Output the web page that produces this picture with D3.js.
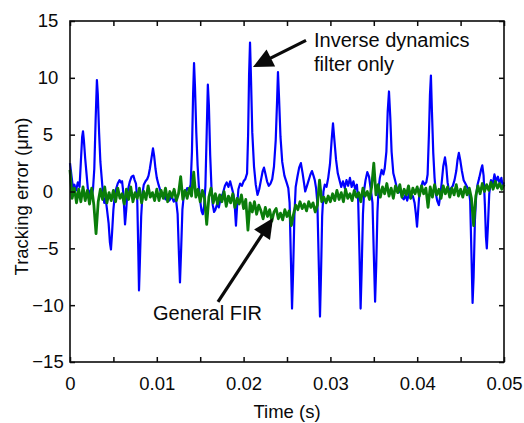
<!DOCTYPE html>
<html>
<head>
<meta charset="utf-8">
<script src="https://cdn.jsdelivr.net/npm/d3@7"></script>
<style>
  body { margin: 0; background: #fff; }
  text { font-family: "Liberation Sans", Arial, sans-serif; fill: #0a0a0a; }
</style>
</head>
<body>
<svg id="chart"></svg>
<script>
// Tracking error: inverse dynamics filter only vs general FIR

const width = 524;
const height = 423;
const margin = { top: 21, right: 20, bottom: 61, left: 70 };

// axis ticks
const xTicks = [0, 0.005, 0.01, 0.015, 0.02, 0.025, 0.03, 0.035, 0.04, 0.045, 0.05];
const xTickLabels = ["0", "", "0.01", "", "0.02", "", "0.03", "", "0.04", "", "0.05"];
const yTicks = [-15, -10, -5, 0, 5, 10, 15];
const yTickLabels = ["\u221215", "\u221210", "\u22125", "0", "5", "10", "15"];

// inverse dynamics filter only: [time (ms), error (um)]
const inverseOnly = [
  [0.0, 2.5], [0.2, 1.2], [0.35, 0.3], [0.5, 0.6], [0.7, 0.1], [0.9, 0.8], [1.1, 0.4], [1.25, 2.6],
  [1.4, 4.8], [1.5, 5.3], [1.6, 4.5], [1.75, 2.9], [1.9, 1.6], [2.05, 0.3], [2.2, -0.5], [2.35, 0.1],
  [2.5, -0.4], [2.65, 0.2], [2.8, 2.0], [2.95, 6.2], [3.1, 9.8], [3.2, 8.6], [3.35, 5.2], [3.5, 2.6],
  [3.65, 1.2], [3.8, -0.2], [3.95, -1.0], [4.1, -0.6], [4.25, -1.5], [4.45, -2.8], [4.6, -4.5], [4.72, -5.1],
  [4.85, -3.6], [5.0, -1.6], [5.15, -0.4], [5.3, 0.2], [5.5, 0.7], [5.7, 1.0], [5.85, 0.8], [6.0, 0.9],
  [6.1, 0.2], [6.22, -1.2], [6.34, -2.9], [6.48, -1.6], [6.6, -0.2], [6.75, 0.4], [6.9, 0.9], [7.1, 1.3],
  [7.3, 1.4], [7.45, 1.0], [7.6, 0.7], [7.75, -0.8], [7.85, -4.5], [7.95, -8.7], [8.05, -6.2], [8.2, -2.2],
  [8.35, -0.2], [8.5, 0.6], [8.7, 0.9], [8.9, 1.1], [9.05, 1.4], [9.2, 2.0], [9.4, 3.0], [9.56, 3.8],
  [9.7, 3.1], [9.85, 2.0], [10.0, 1.2], [10.2, 0.6], [10.4, 0.1], [10.6, -0.4], [10.8, -0.2], [11.0, -0.7],
  [11.2, -0.3], [11.45, -0.8], [11.7, -0.4], [11.95, -0.9], [12.2, -0.6], [12.4, -2.0], [12.55, -5.5], [12.67, -8.0],
  [12.8, -5.2], [12.95, -1.6], [13.1, -0.4], [13.3, -0.1], [13.5, 0.3], [13.7, 0.1], [13.9, 0.6], [14.05, 3.5],
  [14.18, 8.5], [14.29, 11.3], [14.4, 9.2], [14.55, 5.2], [14.7, 2.3], [14.85, 0.4], [15.0, -0.8], [15.15, -1.7],
  [15.3, -2.0], [15.45, -1.3], [15.6, 0.5], [15.75, 5.2], [15.88, 9.4], [16.0, 7.6], [16.15, 3.2], [16.3, 0.3],
  [16.45, -1.2], [16.6, -1.8], [16.75, -1.6], [16.95, -1.1], [17.15, -1.4], [17.35, -0.6], [17.6, -0.2], [17.85, 0.5],
  [18.05, 0.8], [18.25, 0.4], [18.45, 0.9], [18.65, 0.3], [18.85, -0.3], [19.0, -1.5], [19.12, -3.0], [19.25, -1.3],
  [19.4, 0.2], [19.6, 0.7], [19.8, 0.5], [20.0, 0.9], [20.2, 1.1], [20.4, 1.6], [20.52, 5.0], [20.63, 10.2],
  [20.74, 13.1], [20.85, 10.0], [21.0, 5.2], [21.2, 2.2], [21.4, 0.6], [21.6, -0.3], [21.8, 0.2], [22.0, 1.0],
  [22.2, 1.8], [22.35, 2.1], [22.5, 1.6], [22.7, 0.9], [22.9, 0.5], [23.1, 0.7], [23.3, 1.1], [23.5, 2.2],
  [23.7, 4.5], [23.85, 7.8], [23.96, 10.5], [24.08, 8.3], [24.25, 4.8], [24.45, 2.6], [24.7, 1.4], [24.95, 0.8],
  [25.15, 0.3], [25.3, -1.0], [25.45, -6.0], [25.58, -10.3], [25.7, -7.2], [25.85, -2.2], [26.0, 0.4], [26.2, 1.3],
  [26.4, 2.1], [26.6, 2.5], [26.8, 1.6], [26.95, 0.8], [27.1, 0.0], [27.3, 0.5], [27.5, 1.0], [27.7, 1.5],
  [27.88, 1.8], [28.05, 1.4], [28.2, 1.0], [28.35, 0.3], [28.5, -1.0], [28.65, -6.0], [28.8, -11.0], [28.92, -7.2],
  [29.05, -2.2], [29.2, 0.0], [29.35, 0.6], [29.55, 0.4], [29.75, 1.2], [29.95, 2.4], [30.15, 4.6], [30.3, 6.0],
  [30.45, 4.6], [30.65, 2.8], [30.85, 1.6], [31.05, 1.0], [31.25, 0.4], [31.45, 0.9], [31.65, 0.3], [31.85, 1.0],
  [32.05, 0.5], [32.25, 1.2], [32.45, 0.4], [32.65, 0.9], [32.85, 0.2], [33.05, 0.6], [33.2, -0.8], [33.35, -5.5],
  [33.48, -10.3], [33.6, -7.0], [33.75, -2.0], [33.9, 0.2], [34.05, 1.0], [34.25, 1.7], [34.45, 1.3], [34.65, 0.2],
  [34.85, -1.0], [35.0, -5.5], [35.15, -9.7], [35.28, -6.5], [35.42, -1.8], [35.55, 0.3], [35.7, 1.2], [35.9, 1.9],
  [36.1, 1.5], [36.25, 2.0], [36.45, 3.5], [36.6, 7.0], [36.75, 8.8], [36.9, 6.5], [37.05, 3.5], [37.25, 1.6],
  [37.45, 1.0], [37.65, 0.3], [37.85, -0.1], [38.05, 0.2], [38.25, -0.5], [38.45, -0.7], [38.65, -0.3], [38.85, -0.8],
  [39.05, -0.2], [39.25, -0.6], [39.5, -0.4], [39.7, -1.0], [39.85, -2.0], [39.98, -3.1], [40.1, -1.8], [40.25, -0.2],
  [40.45, 0.4], [40.65, 0.9], [40.85, 0.6], [41.05, 0.8], [41.2, 1.5], [41.35, 5.0], [41.47, 8.5], [41.58, 10.2],
  [41.7, 7.0], [41.85, 3.4], [42.0, 1.2], [42.15, -0.2], [42.3, -0.8], [42.5, -1.2], [42.65, -0.4], [42.8, 0.6],
  [43.0, 2.2], [43.2, 3.0], [43.35, 2.2], [43.5, 0.8], [43.7, -0.1], [43.9, 0.3], [44.1, 0.5], [44.3, 1.0],
  [44.5, 1.8], [44.65, 2.8], [44.8, 3.4], [44.95, 2.8], [45.15, 1.8], [45.35, 1.0], [45.55, 0.7], [45.75, 0.4],
  [45.95, 0.1], [46.1, -0.8], [46.25, -5.5], [46.38, -9.8], [46.5, -7.5], [46.65, -2.5], [46.8, -0.3], [46.95, 0.6],
  [47.15, 1.2], [47.35, 1.9], [47.5, 2.3], [47.65, 1.4], [47.8, -1.2], [47.92, -4.0], [48.02, -5.0], [48.15, -3.0],
  [48.3, -0.2], [48.5, 1.0], [48.7, 0.6], [48.9, 1.5], [49.1, 0.9], [49.3, 1.3], [49.5, 0.7], [49.7, 1.2],
  [49.85, 0.5], [50.0, 0.8]
];

// general FIR: error (um) sampled every 0.25 ms
const firStepMs = 0.25;
const generalFir = [
  1.9, -0.6, 0.3, -1.0, 0.2, -0.9, 0.4, -0.8, 0.1, -1.1, 0.3, -1.2, -3.7, -0.9, 0.2, -0.7, 0.4, -1.0, -0.1, -0.8,
  0.1, -0.9, 0.3, -0.6, -0.2, -1.1, 0.2, -0.7, 0.4, -0.9, -0.1, -0.6, 0.3, -1.0, 0.0, -0.7, 0.5, -0.5, -0.1, -0.8,
  0.2, -0.8, 0.1, -0.6, 0.3, -0.9, 0.0, -0.5, 0.2, -0.8, -0.2, 1.3, -0.7, 0.1, -0.6, 0.3, -0.4, 1.7, -0.5, 0.2,
  -0.9, 0.1, -0.6, -2.9, -0.5, 0.3, -1.0, -0.2, -1.1, -0.3, -0.9, 0.0, -1.3, -0.4, -1.0, -0.2, -1.4, -0.6, -1.1, -0.3,
  -1.5, -0.7, -3.4, -1.0, -1.8, -0.9, -2.0, -1.2, -1.7, -2.4, -1.4, -2.2, -1.6, -2.6, -1.8, -1.5, -2.4, -1.9, -2.5, -1.6,
  -2.2, -1.7, -3.0, -2.0, -1.2, -1.6, -0.9, -1.5, -1.1, -1.7, -0.9, -1.4, -1.0, -1.8, -1.2, 1.0, -0.9, -0.5, -1.0, -0.4,
  -0.9, -0.2, -0.8, 0.1, -0.7, -0.1, -0.9, 0.2, -0.6, -0.2, -0.8, 0.1, -0.5, -0.1, -0.9, 0.3, -0.4, 0.0, -0.7, 0.4,
  2.5, -0.3, 0.6, -0.5, 0.4, -0.2, 0.7, -0.4, 0.3, -0.6, 0.5, -0.1, 0.6, -0.5, 0.2, -0.3, 0.5, -0.6, 0.3, -0.2,
  0.4, -0.4, 0.5, -0.2, 0.3, -1.4, 0.4, -0.5, 0.6, -0.3, 0.2, -0.6, 0.5, -0.2, 0.4, -0.5, 0.3, -0.3, 0.6, -0.4,
  0.2, -0.5, 0.4, -0.3, 0.3, -0.6, -3.0, -0.4, 0.5, -0.2, 0.7, 0.0, 0.6, 0.1, 0.8, 0.2, 0.9, 0.3, 0.7, 0.2,
  0.6
];

// annotations in data units: arrow from -> to, label lines
const annInverse = { from: [0.02719, 13.3], to: [0.02108, 10.95], at: [0.02811, 12.74], lines: ["Inverse dynamics", "filter only"] };
const annFir = { from: [0.01705, -9.72], to: [0.02339, -2.33], at: [0.00956, -11.3], lines: ["General FIR"] };

const svg = d3.select("#chart").attr("width", width).attr("height", height);

const x = d3.scaleLinear().domain([0, 0.05]).range([margin.left, width - margin.right]);
const y = d3.scaleLinear().domain([-15, 15]).range([height - margin.bottom, margin.top]);

// data lines
const line = d3.line().x(d => x(d[0])).y(d => y(d[1]));

const bluePts = inverseOnly.map(d => [d[0] / 1000, d[1]]);
const greenPts = generalFir.map((v, i) => [i * firStepMs / 1000, v]);

const plot = svg.append("g");
plot.append("path")
    .datum(bluePts)
    .attr("d", line)
    .attr("fill", "none")
    .attr("stroke", "#0000ff")
    .attr("stroke-width", 2.2)
    .attr("stroke-linejoin", "round");

plot.append("path")
    .datum(greenPts)
    .attr("d", line)
    .attr("fill", "none")
    .attr("stroke", "#0a7d0a")
    .attr("stroke-width", 2.8)
    .attr("stroke-linejoin", "round");

// axes, ticks point inward
const axisB = svg.append("g")
    .attr("transform", `translate(0,${y(-15)})`)
    .call(d3.axisBottom(x).tickValues(xTicks).tickSizeInner(-5).tickSizeOuter(0)
        .tickFormat((d, i) => xTickLabels[i]));
axisB.selectAll("text").attr("y", 15).attr("dy", "0.71em").style("font-size", "18.5px");

svg.append("g")
    .attr("transform", `translate(0,${y(15)})`)
    .call(d3.axisTop(x).tickValues(xTicks).tickSizeInner(-5).tickSizeOuter(0).tickFormat(""));

const axisL = svg.append("g")
    .attr("transform", `translate(${x(0)},0)`)
    .call(d3.axisLeft(y).tickValues(yTicks).tickSizeInner(-5).tickSizeOuter(0)
        .tickFormat((d, i) => yTickLabels[i]));
axisL.selectAll("text").attr("x", -22).attr("text-anchor", "middle").style("font-size", "18.5px");

svg.append("g")
    .attr("transform", `translate(${x(0.05)},0)`)
    .call(d3.axisRight(y).tickValues(yTicks).tickSizeInner(-5).tickSizeOuter(0).tickFormat(""));

svg.selectAll(".domain").remove();
svg.selectAll(".tick line").attr("stroke", "#0a0a0a").attr("stroke-width", 1.5);

svg.append("rect")
    .attr("x", x(0)).attr("y", y(15))
    .attr("width", x(0.05) - x(0)).attr("height", y(-15) - y(15))
    .attr("fill", "none").attr("stroke", "#0a0a0a").attr("stroke-width", 1.6);

// axis titles
svg.append("text")
    .attr("x", (x(0) + x(0.05)) / 2)
    .attr("y", 418)
    .attr("text-anchor", "middle")
    .style("font-size", "18.5px")
    .text("Time (s)");

svg.append("text")
    .attr("transform", `translate(28,${(y(15) + y(-15)) / 2 + 5}) rotate(-90)`)
    .attr("text-anchor", "middle")
    .style("font-size", "18.5px")
    .text("Tracking error (\u03bcm)");

// arrows with labels
function drawArrow(a) {
    const x0 = x(a.from[0]), y0 = y(a.from[1]);
    const x1 = x(a.to[0]), y1 = y(a.to[1]);
    const len = Math.hypot(x1 - x0, y1 - y0);
    const ux = (x1 - x0) / len, uy = (y1 - y0) / len;
    const headLen = 20, headHalf = 9.5;
    const bx = x1 - ux * headLen, by = y1 - uy * headLen;

    svg.append("line")
        .attr("x1", x0).attr("y1", y0)
        .attr("x2", bx + ux * 2).attr("y2", by + uy * 2)
        .attr("stroke", "#0a0a0a").attr("stroke-width", 3.2);

    svg.append("path")
        .attr("d", `M${x1},${y1} L${bx - uy * headHalf},${by + ux * headHalf} L${bx + uy * headHalf},${by - ux * headHalf} Z`)
        .attr("fill", "#0a0a0a");

    const t = svg.append("text")
        .attr("x", x(a.at[0]))
        .attr("y", y(a.at[1]))
        .style("font-size", "20px");
    a.lines.forEach((s, i) => {
        t.append("tspan").attr("x", x(a.at[0])).attr("dy", i === 0 ? 0 : 24).text(s);
    });
}

drawArrow(annInverse);
drawArrow(annFir);
</script>
</body>
</html>
